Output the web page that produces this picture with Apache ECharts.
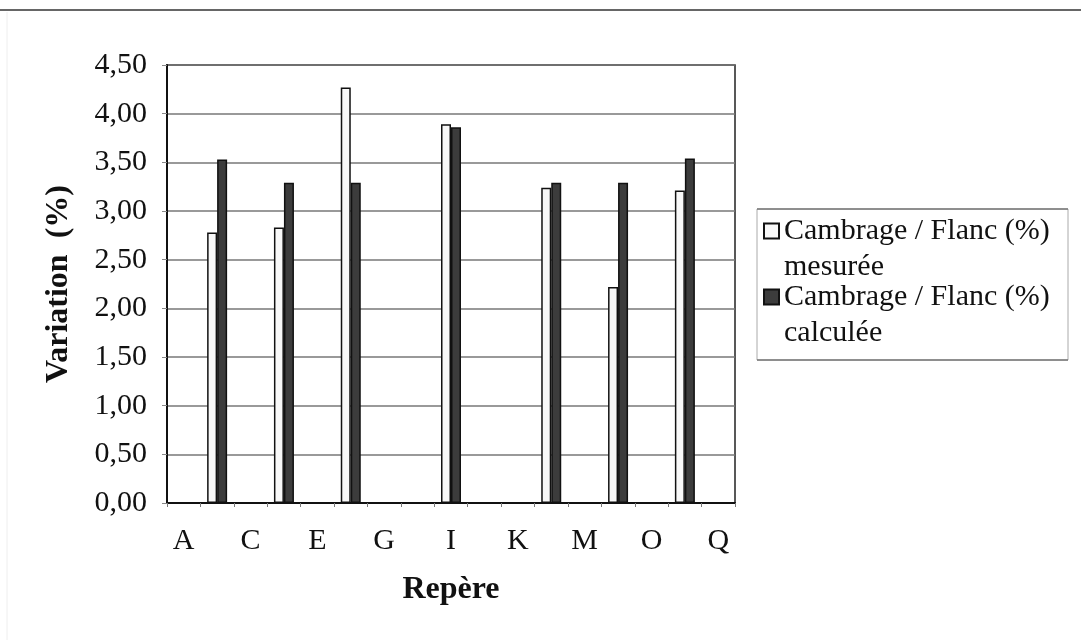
<!DOCTYPE html>
<html>
<head>
<meta charset="utf-8">
<script src="https://cdn.jsdelivr.net/npm/echarts@6/dist/echarts.min.js"></script>
<style>
html,body{margin:0;padding:0;background:#fff;}
#chart{width:1081px;height:640px;}
</style>
</head>
<body>
<div id="chart"></div>
<script>
var categories = ['A','B','C','D','E','F','G','H','I','J','K','L','M','N','O','P','Q'];
var measured   = [null, 2.78, null, 2.83, null, 4.27, null, null, 3.89, null, null, 3.24, null, 2.22, null, 3.21, null];
var calculated = [null, 3.53, null, 3.29, null, 3.29, null, null, 3.86, null, null, 3.29, null, 3.29, null, 3.54, null];
var seriesNames = ['Cambrage / Flanc (%)\nmesurée', 'Cambrage / Flanc (%)\ncalculée'];
var yTitle = 'Variation  (%)';
var xTitle = 'Repère';

var FONT = '"Liberation Serif", "Times New Roman", serif';
var chart = echarts.init(document.getElementById('chart'), null, {renderer: 'canvas'});

function legendCfg(name, top) {
  return {
    data: [name],
    left: 763,
    top: top,
    orient: 'vertical',
    itemWidth: 15,
    itemHeight: 15,
    icon: 'rect',
    padding: 0,
    selectedMode: false,
    formatter: function (n) { return '\n' + n; },
    textStyle: {fontFamily: FONT, fontSize: 30, color: '#111', lineHeight: 36}
  };
}

chart.setOption({
  animation: false,
  backgroundColor: '#fff',
  grid: {
    left: 167, right: 346, top: 65, bottom: 137,
    show: true, borderColor: '#222', borderWidth: 1.5, backgroundColor: 'transparent'
  },
  legend: [legendCfg(seriesNames[0], 177), legendCfg(seriesNames[1], 243)],
  xAxis: {
    type: 'category',
    data: categories,
    name: xTitle,
    nameLocation: 'middle',
    nameGap: 71,
    nameTextStyle: {fontFamily: FONT, fontSize: 32, fontWeight: 'bold', color: '#111'},
    axisLine: {lineStyle: {color: '#111', width: 2}},
    axisTick: {show: true, interval: 0, length: 4, lineStyle: {color: '#777'}},
    axisLabel: {interval: 1, margin: 23, fontFamily: FONT, fontSize: 30, color: '#111'}
  },
  yAxis: {
    type: 'value',
    min: 0, max: 4.5, interval: 0.5,
    name: yTitle,
    nameLocation: 'middle',
    nameGap: 92,
    nameRotate: 90,
    nameTextStyle: {fontFamily: FONT, fontSize: 32, fontWeight: 'bold', color: '#111'},
    axisLine: {show: true, lineStyle: {color: '#111', width: 2}},
    axisTick: {show: true, length: 5, lineStyle: {color: '#888'}},
    axisLabel: {
      margin: 20, fontFamily: FONT, fontSize: 30, color: '#111',
      formatter: function (v) { return v.toFixed(2).replace('.', ','); }
    },
    splitLine: {show: true, lineStyle: {color: '#777', width: 1.5}}
  },
  series: [
    {
      name: seriesNames[0], type: 'bar', data: measured,
      barWidth: 10, barGap: '0%',
      itemStyle: {color: '#f8f8f8', borderColor: '#111', borderWidth: 1.5}
    },
    {
      name: seriesNames[1], type: 'bar', data: calculated,
      barWidth: 10, barGap: '0%',
      itemStyle: {color: '#3c3c3c', borderColor: '#111', borderWidth: 1.5}
    }
  ],
  graphic: [
    {type: 'rect', silent: true, z: -1, shape: {x: 757, y: 209, width: 311, height: 151},
     style: {fill: '#fff', stroke: '#aaa', lineWidth: 1}},
    {type: 'line', silent: true, shape: {x1: 757, y1: 209, x2: 1068, y2: 209}, style: {stroke: '#777', lineWidth: 1.5}},
    {type: 'line', silent: true, shape: {x1: 757, y1: 360, x2: 1068, y2: 360}, style: {stroke: '#777', lineWidth: 1.5}},
    {type: 'line', silent: true, shape: {x1: 0, y1: 10, x2: 1081, y2: 10}, style: {stroke: '#666', lineWidth: 2}},
    {type: 'line', silent: true, shape: {x1: 7, y1: 12, x2: 7, y2: 640}, style: {stroke: '#eee', lineWidth: 1}}
  ]
});
</script>
</body>
</html>
